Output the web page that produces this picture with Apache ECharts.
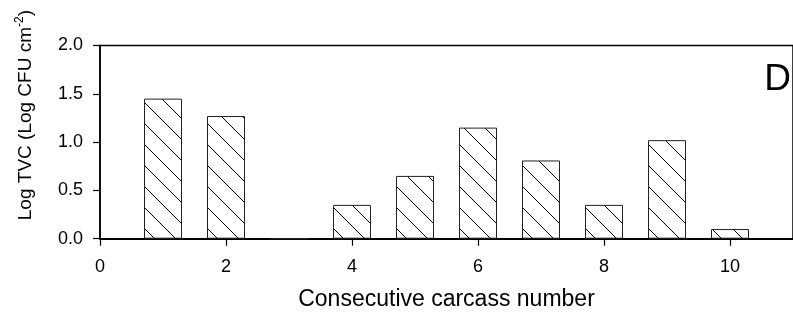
<!DOCTYPE html>
<html>
<head>
<meta charset="utf-8">
<script src="https://cdn.jsdelivr.net/npm/echarts@6/dist/echarts.min.js"></script>
<style>
  html, body { margin: 0; padding: 0; background: #fff; }
  #chart { width: 793px; height: 323px; }
</style>
</head>
<body>
<div id="chart"></div>
<script>
// Total viable counts per carcass (log CFU per cm²)
const carcassNumber = [1, 2, 3, 4, 5, 6, 7, 8, 9, 10];
const logTVC = [1.45, 1.27, 0, 0.35, 0.65, 1.15, 0.81, 0.35, 1.02, 0.10];
const yTicks = [0, 0.5, 1.0, 1.5, 2.0];
const xTicks = [0, 2, 4, 6, 8, 10];
const panelLetter = 'D';

const FONT = '"Liberation Sans", Arial, Helvetica, sans-serif';

// Back-slash hatch used as bar fill
function makeHatch(step) {
  const c = document.createElement('canvas');
  c.width = step;
  c.height = step;
  const ctx = c.getContext('2d');
  ctx.strokeStyle = '#000';
  ctx.lineWidth = 1;
  ctx.beginPath();
  ctx.moveTo(-1, -1);
  ctx.lineTo(step + 1, step + 1);
  ctx.moveTo(-1, step - 1);
  ctx.lineTo(1, step + 1);
  ctx.moveTo(step - 1, -1);
  ctx.lineTo(step + 1, 1);
  ctx.stroke();
  return c;
}

const chart = echarts.init(document.getElementById('chart'), null, { renderer: 'canvas' });

const option = {
  animation: false,
  backgroundColor: '#fff',
  grid: {
    left: 100, right: -4.4, top: 45.5, bottom: 84.3,
    show: true, borderColor: '#000', borderWidth: 1.5,
    backgroundColor: 'transparent'
  },
  xAxis: {
    type: 'value',
    min: 0, max: 11, interval: 2,
    name: 'Consecutive carcass number',
    nameLocation: 'middle',
    nameGap: 49,
    nameTextStyle: { fontFamily: FONT, fontSize: 23, color: '#000' },
    axisLine: { show: true, lineStyle: { color: '#000', width: 2 } },
    axisTick: { show: true, length: 7, lineStyle: { color: '#000', width: 1.2 } },
    axisLabel: {
      fontFamily: FONT, fontSize: 18, color: '#000', margin: 19,
      showMaxLabel: false,
      formatter: v => (xTicks.includes(v) ? String(v) : '')
    },
    splitLine: { show: false }
  },
  yAxis: {
    type: 'value',
    min: 0, max: 2, interval: 0.5,
    name: '{n|Log TVC (Log CFU cm}{s|-2}{n|)}',
    nameLocation: 'middle',
    nameGap: 62,
    nameRotate: 90,
    nameTextStyle: {
      fontFamily: FONT, fontSize: 19, color: '#000',
      padding: [0, 0, 0, 54],
      rich: {
        n: { fontFamily: FONT, fontSize: 19, color: '#000', lineHeight: 24 },
        s: { fontFamily: FONT, fontSize: 12, color: '#000', lineHeight: 24, verticalAlign: 'top' }
      }
    },
    axisLine: { show: true, lineStyle: { color: '#000', width: 1.5 } },
    axisTick: { show: true, length: 7, lineStyle: { color: '#000', width: 1.2 } },
    axisLabel: {
      fontFamily: FONT, fontSize: 18, color: '#000', margin: 17,
      formatter: v => yTicks.find(t => Math.abs(t - v) < 1e-9).toFixed(1)
    },
    splitLine: { show: false }
  },
  graphic: [{
    type: 'text',
    right: 2,
    top: 61,
    style: { text: panelLetter, font: '37px ' + FONT, fill: '#000' }
  }],
  series: [{
    type: 'bar',
    data: carcassNumber.map((n, i) => [n, logTVC[i]]),
    barWidth: 38,
    itemStyle: {
      color: { image: makeHatch(21), repeat: 'repeat' },
      borderColor: '#222',
      borderWidth: 1
    }
  }]
};

chart.setOption(option);
</script>
</body>
</html>
